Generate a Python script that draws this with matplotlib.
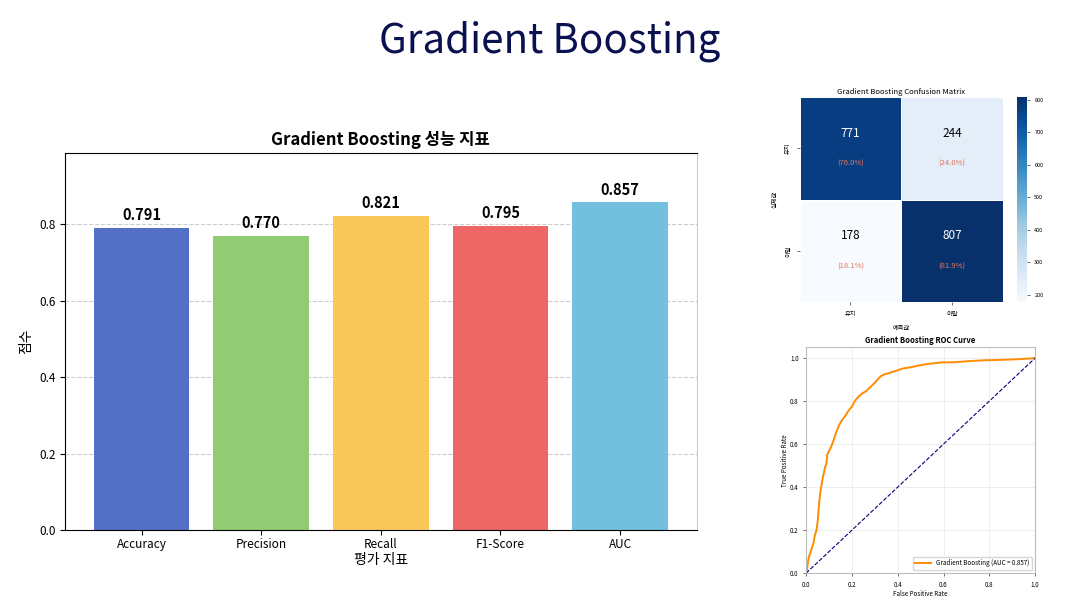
import matplotlib
matplotlib.use("Agg")
import matplotlib.pyplot as plt
import numpy as np
import seaborn as sns

plt.rcParams["font.family"] = ["Noto Sans CJK KR", "DejaVu Sans"]

# bar chart data
metrics = ["Accuracy", "Precision", "Recall", "F1-Score", "AUC"]
scores = [0.791, 0.770, 0.821, 0.795, 0.857]
bar_colors = ["#5470c6", "#91cc75", "#fac858", "#ee6666", "#73c0de"]

# confusion matrix data
class_labels = ["유지", "이탈"]
cm = np.array([[771, 244], [178, 807]])
cm_pct = ["(76.0%)", "(24.0%)", "(18.1%)", "(81.9%)"]

# ROC curve points
fpr = [0.0, 0.004, 0.007, 0.012, 0.018, 0.025, 0.032, 0.036, 0.039, 0.045,
       0.051, 0.054, 0.057, 0.061, 0.066, 0.072, 0.078, 0.083, 0.088, 0.092,
       0.098, 0.108, 0.12, 0.128, 0.135, 0.145, 0.156, 0.17, 0.186, 0.2,
       0.215, 0.23, 0.244, 0.26, 0.273, 0.29, 0.303, 0.318, 0.332, 0.345,
       0.361, 0.39, 0.42, 0.46, 0.493, 0.54, 0.595, 0.65, 0.712, 0.78,
       0.858, 0.93, 1.0]
tpr = [0.0, 0.02, 0.046, 0.075, 0.093, 0.118, 0.139, 0.165, 0.178, 0.2,
       0.247, 0.29, 0.325, 0.37, 0.402, 0.44, 0.47, 0.495, 0.505, 0.55,
       0.564, 0.585, 0.618, 0.645, 0.665, 0.69, 0.711, 0.73, 0.757, 0.775,
       0.804, 0.822, 0.835, 0.845, 0.858, 0.875, 0.889, 0.908, 0.920, 0.925,
       0.930, 0.94, 0.951, 0.958, 0.966, 0.974, 0.980, 0.981, 0.986, 0.99,
       0.992, 0.995, 1.0]
auc_value = 0.857

fig = plt.figure(figsize=(10.85, 6.02), dpi=100)
fig.text(0.507, 0.932, "Gradient Boosting", ha="center", va="center",
         fontsize=29, color="#0b1150")

# --- metric bars ---
ax = fig.add_axes([0.060, 0.1196, 0.582, 0.626])
x = np.arange(len(metrics))
bars = ax.bar(x, scores, width=0.8, color=bar_colors, zorder=2)
for b, v in zip(bars, scores):
    ax.text(b.get_x() + b.get_width() / 2, v + 0.012, f"{v:.3f}",
            ha="center", va="bottom", fontsize=10.5, fontweight="bold")
ax.set_xticks(x)
ax.set_xticklabels(metrics, fontsize=8.5)
ax.tick_params(axis="x", pad=2)
ax.set_ylim(0, max(scores) * 1.15)
ax.set_yticks([0, 0.2, 0.4, 0.6, 0.8])
ax.tick_params(axis="y", labelsize=8.5)
ax.yaxis.grid(True, linestyle="--", color="#cccccc", linewidth=0.8, zorder=0)
ax.set_axisbelow(True)
ax.set_xlabel("평가 지표", fontsize=10, labelpad=2)
ax.set_ylabel("점수", fontsize=10)
ax.set_title("Gradient Boosting 성능 지표", fontsize=12, fontweight="bold", pad=6)
ax.spines["right"].set_color("#cccccc")

# --- confusion matrix ---
hax = fig.add_axes([0.737, 0.498, 0.187, 0.3405])
cax = fig.add_axes([0.937, 0.498, 0.0092, 0.3405])
sns.heatmap(cm, cmap="Blues", ax=hax, cbar_ax=cax, linewidths=0.6,
            linecolor="white", xticklabels=class_labels, yticklabels=class_labels)
k = 0
for i in range(2):
    for j in range(2):
        dark = cm[i, j] > 500
        hax.text(j + 0.5, i + 0.35, str(cm[i, j]), ha="center", va="center",
                 fontsize=8.5, color="white" if dark else "black")
        hax.text(j + 0.5, i + 0.65, cm_pct[k], ha="center", va="center",
                 fontsize=5.5, color="#e8735f")
        k += 1
hax.set_title("Gradient Boosting Confusion Matrix", fontsize=5.5, pad=2)
hax.set_xlabel("예측값", fontsize=4.5)
hax.set_ylabel("실제값", fontsize=4.5)
hax.tick_params(labelsize=4.5, length=2, width=0.4)
cax.tick_params(labelsize=4, length=2, width=0.4)
cax.set_yticks([200, 300, 400, 500, 600, 700, 800])

# --- ROC curve ---
rax = fig.add_axes([0.743, 0.048, 0.211, 0.375])
rax.plot(fpr, tpr, color="darkorange", linewidth=1.4,
         label=f"Gradient Boosting (AUC = {auc_value:.3f})")
rax.plot([0, 1], [0, 1], color="navy", linewidth=0.8, linestyle="--")
rax.set_xlim(0, 1)
rax.set_ylim(0, 1.05)
rax.set_xticks(np.arange(0, 1.01, 0.2))
rax.set_yticks(np.arange(0, 1.01, 0.2))
rax.grid(True, color="#e8e8e8", linewidth=0.5)
rax.tick_params(labelsize=4.5, length=2, width=0.4)
rax.set_xlabel("False Positive Rate", fontsize=4.5, labelpad=1)
rax.set_ylabel("True Positive Rate", fontsize=4.5, labelpad=1)
rax.set_title("Gradient Boosting ROC Curve", fontsize=5.5, fontweight="bold", pad=3)
rax.legend(loc="lower right", fontsize=4.5, handlelength=2.5)
for s in rax.spines.values():
    s.set_color("#bbbbbb")
    s.set_linewidth(0.8)

fig.savefig("out.png", dpi=100)
